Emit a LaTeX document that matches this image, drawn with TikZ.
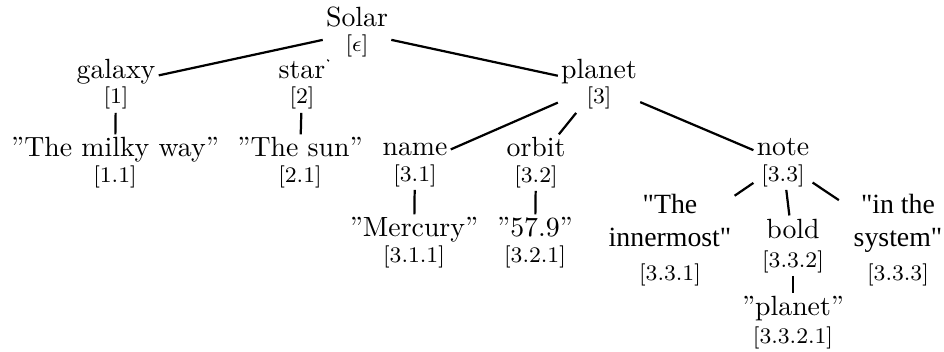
\documentclass[tikz,border=0pt]{standalone}
\usepackage{fontspec}
\newfontfamily\tms{Liberation Serif}
\newcommand{\ixl}[1]{\\[-3pt]{\rmfamily\footnotesize[#1]}}
\begin{document}
\begin{tikzpicture}[x=0.3597pt,y=-0.3597pt,
  tn/.style={align=center,inner sep=1pt,anchor=base,font=\fontsize{10}{12}\selectfont},
  tt/.style={tn,font=\fontsize{10}{12}\tms},
  edge/.style={line width=0.8pt}]
\useasboundingbox (0,0) rectangle (944,351);
\node[tn] (r) at (357,52) {Solar\ixl{$\epsilon$}};
\node[tn] (g) at (116,104) {galaxy\ixl{1}};
\node[tn] (s) at (302,104) {star\ixl{2}};
\node[tn] (p) at (599,104) {planet\ixl{3}};
\node[tn] (g1) at (115,182) {”The milky way”\ixl{1.1}};
\node[tn] (s1) at (300,182) {”The sun”\ixl{2.1}};
\node[tn] (n) at (415,181) {name\ixl{3.1}};
\node[tn] (o) at (536,182) {orbit\ixl{3.2}};
\node[tn] (nt) at (783,181) {note\ixl{3.3}};
\node[tn] (n1) at (414,262) {”Mercury”\ixl{3.1.1}};
\node[tn] (o1) at (535,262) {”57.9”\ixl{3.2.1}};
\node[tt] (t1) at (670,280) {"The\\innermost"\\{\rmfamily\footnotesize[3.3.1]}};
\node[tn] (b) at (793,267) {bold\\[-1.6pt]{\footnotesize[3.3.2]}};
\node[tt] (t3) at (898,280) {"in the\\system"\\{\rmfamily\footnotesize[3.3.3]}};
\node[tn] (b1) at (793,343) {”planet”\\[-2pt]{\footnotesize[3.3.2.1]}};
\foreach \a/\b in {r/g,r/s,r/p,g/g1,s/s1,p/n,p/o,p/nt,n/n1,o/o1,nt/t1,nt/b,b/b1}
  \draw[edge] (\a) -- (\b);
\draw[edge,shorten >=5pt] (nt) -- (t3);
\end{tikzpicture}
\end{document}
